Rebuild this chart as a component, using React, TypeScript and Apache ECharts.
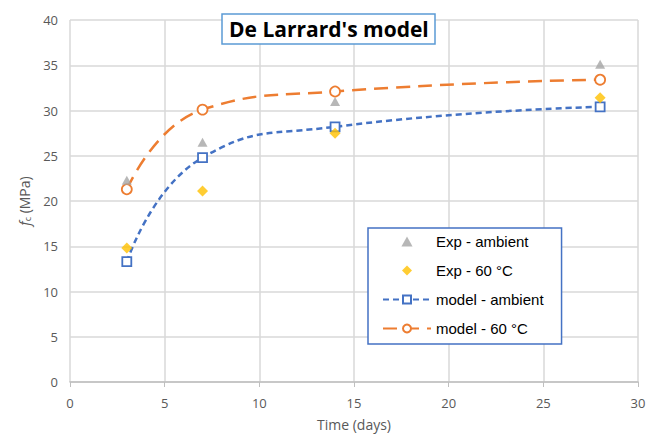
import React, { useEffect, useRef } from "react";
import * as echarts from "echarts";

const days = [3, 7, 14, 28];
const expAmbient = [22.3, 26.5, 31.0, 35.1];
const exp60 = [14.8, 21.1, 27.5, 31.4];
const modelAmbient = [13.3, 24.8, 28.2, 30.4];
const model60 = [21.3, 30.1, 32.1, 33.4];

const pairs = (ys: number[]) => days.map((d, i) => [d, ys[i]]);

export default function App() {
  const ref = useRef<HTMLDivElement>(null);
  useEffect(() => {
    const chart = echarts.init(ref.current!, null, { renderer: "svg" });
    const font = "'Open Sans', 'Noto Sans', sans-serif";
    chart.setOption({
      animation: false,
      textStyle: { fontFamily: font },
      grid: { left: 70, right: 11, top: 20, bottom: 54 },
      title: {
        text: "De Larrard's model",
        left: 222,
        top: 14,
        padding: [4, 7, 5, 7],
        borderColor: "#5b9bd5",
        borderWidth: 1.5,
        backgroundColor: "#fff",
        textStyle: { fontSize: 21, fontWeight: "bold", color: "#000", fontFamily: font },
      },
      legend: {
        orient: "vertical",
        left: 368,
        top: 228,
        padding: [6, 18, 8, 14],
        itemGap: 14,
        itemWidth: 48,
        itemHeight: 10,
        symbolKeepAspect: true,
        borderColor: "#4472c4",
        borderWidth: 1.5,
        backgroundColor: "#fff",
        textStyle: { fontSize: 15, color: "#000", fontFamily: "'Liberation Sans', Arial, sans-serif" },
        data: [
          { name: "Exp - ambient", icon: "path://M5,0L10,9L0,9Z" },
          { name: "Exp - 60 °C", icon: "path://M5,0L10,5L5,10L0,5Z" },
          "model - ambient",
          "model - 60 °C",
        ],
      },
      xAxis: {
        type: "value",
        min: 0,
        max: 30,
        interval: 5,
        name: "Time (days)",
        nameLocation: "middle",
        nameGap: 35,
        nameTextStyle: { fontSize: 14, color: "#595959" },
        axisLine: { show: true, lineStyle: { color: "#bfbfbf", width: 1.5 } },
        axisTick: { show: true, length: 5, lineStyle: { color: "#bfbfbf" } },
        axisLabel: { fontSize: 13, color: "#595959", margin: 14 },
        splitLine: { show: true, lineStyle: { color: "#d9d9d9", width: 1.5 } },
      },
      yAxis: {
        type: "value",
        min: 0,
        max: 40,
        interval: 5,
        name: "{i|f}{s|c} (MPa)",
        nameLocation: "middle",
        nameGap: 38,
        nameTextStyle: {
          fontSize: 14,
          color: "#595959",
          rich: {
            i: { fontSize: 14, fontStyle: "italic", color: "#595959", fontFamily: font },
            s: { fontSize: 9, color: "#595959", verticalAlign: "bottom", padding: [6, 0, 0, 0], fontFamily: font },
          },
        },
        axisLine: { show: false },
        axisTick: { show: false },
        axisLabel: { fontSize: 13, color: "#595959", margin: 12 },
        splitLine: { show: true, lineStyle: { color: "#d9d9d9", width: 1.5 } },
      },
      series: [
        {
          name: "Exp - ambient",
          type: "scatter",
          data: pairs(expAmbient),
          symbol: "triangle",
          symbolSize: [10, 9],
          itemStyle: { color: "#a5a5a5" },
          z: 3,
        },
        {
          name: "Exp - 60 °C",
          type: "scatter",
          data: pairs(exp60),
          symbol: "diamond",
          symbolSize: 11,
          itemStyle: { color: "#ffc000" },
          z: 3,
        },
        {
          name: "model - ambient",
          type: "line",
          data: pairs(modelAmbient),
          smooth: 0.5,
          symbol: "rect",
          symbolSize: 9,
          showAllSymbol: true,
          lineStyle: { color: "#4472c4", width: 2.5, type: [6, 4] },
          itemStyle: { color: "#fff", borderColor: "#4472c4", borderWidth: 1.8 },
          z: 2,
        },
        {
          name: "model - 60 °C",
          type: "line",
          data: pairs(model60),
          smooth: 0.5,
          symbol: "circle",
          symbolSize: 10,
          showAllSymbol: true,
          lineStyle: { color: "#ed7d31", width: 2.5, type: [14, 8] },
          itemStyle: { color: "#fff", borderColor: "#ed7d31", borderWidth: 1.8 },
          z: 2,
        },
      ],
    });
    return () => chart.dispose();
  }, []);
  return <div ref={ref} style={{ width: 649, height: 436, position: "fixed", left: 0, top: 0, background: "#fff" }} />;
}
